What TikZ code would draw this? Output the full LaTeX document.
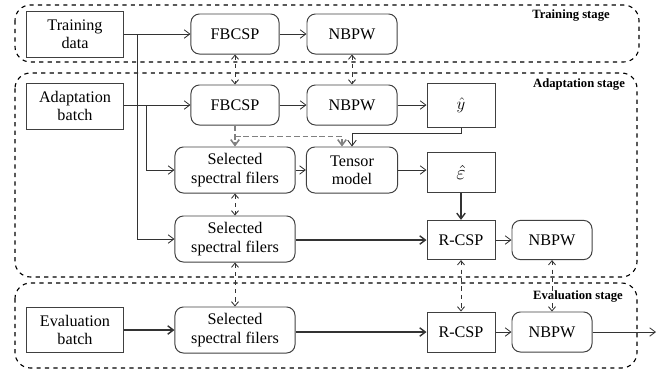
\documentclass[tikz,border=0pt]{standalone}
\usepackage{fontspec}
\setmainfont{Liberation Serif}
\usepackage{amsmath}
\usepackage{tikz}
\usetikzlibrary{
	positioning,
	calc,
	arrows.meta
}

\begin{document}
\begin{tikzpicture}[
	x=0.025cm, y=-0.025cm,
	font=\fontsize{11.5}{13}\selectfont,
	c_block/.style={
		draw=black!75,
		line width=0.7pt,
		align=center,
		inner sep=1pt
	},
	c_round/.style={
		c_block,
		rounded corners=6pt
	},
	c_stage/.style={
		black,
		dashed,
		line width=0.8pt,
		rounded corners=11pt
	},
	c_arrow/.style={
		black!80,
		line width=0.6pt,
		-{Straight Barb[length=4pt,width=6pt]}
	},
	c_thick/.style={
		c_arrow,
		line width=1pt
	},
	c_link/.style={
		black!80,
		dashed,
		line width=0.6pt,
		{Straight Barb[length=3pt,width=5pt]}-{Straight Barb[length=3pt,width=5pt]}
	},
	c_gray/.style={
		gray,
		dash pattern=on 4pt off 2pt,
		line width=1.1pt,
		-{Straight Barb[length=4pt,width=6pt]}
	},
	c_label/.style={
		font=\fontsize{9}{10}\selectfont\bfseries
	}
	]

	\useasboundingbox (0,0) rectangle (664,376);

	% =========================================================================
	% STAGES
	% =========================================================================

	\draw[c_stage] (15,5) rectangle (639,62);
	\draw[c_stage] (15,73) rectangle (637,277);
	\draw[c_stage] (15,283) rectangle (637,368);

	\node[c_label] (lbl_train) at (571,16) {Training stage};
	\node[c_label] (lbl_adapt) at (579,85) {Adaptation stage};
	\node[c_label] (lbl_eval) at (578,296) {Evaluation stage};

	% =========================================================================
	% TRAINING STAGE
	% =========================================================================

	\node[c_block, minimum width=2.425cm, minimum height=1.15cm]
	(td) at (75,34) {Training\\data};

	\node[c_round, minimum width=2.2cm, minimum height=1.0cm]
	(fb1) at (235,34) {FBCSP};

	\node[c_round, minimum width=2.25cm, minimum height=1.0cm]
	(nb1) at (352,34) {NBPW};

	% =========================================================================
	% ADAPTATION STAGE
	% =========================================================================

	\node[c_block, minimum width=2.425cm, minimum height=1.15cm]
	(ab) at (75,106) {Adaptation\\batch};

	\node[c_round, minimum width=2.2cm, minimum height=1.0cm]
	(fb2) at (235,105) {FBCSP};

	\node[c_round, minimum width=2.25cm, minimum height=1.0cm]
	(nb2) at (352,105) {NBPW};

	\node[c_block, minimum width=1.7cm, minimum height=1.1cm]
	(yh) at (461,105) {$\hat{y}$};

	\node[c_round, minimum width=3.0cm, minimum height=1.15cm]
	(ssf1) at (235,170) {Selected\\spectral filers};

	\node[c_round, minimum width=2.28cm, minimum height=1.15cm]
	(tm) at (352,170) {Tensor\\model};

	\node[c_block, minimum width=1.7cm, minimum height=1.0cm]
	(eh) at (461,172) {\Large$\hat{\varepsilon}$};

	\node[c_round, minimum width=3.0cm, minimum height=1.15cm]
	(ssf2) at (235,239) {Selected\\spectral filers};

	\node[c_block, minimum width=1.7cm, minimum height=0.98cm]
	(rc1) at (461,240) {R-CSP};

	\node[c_round, minimum width=2.0cm, minimum height=0.98cm]
	(nb3) at (552,240) {NBPW};

	% =========================================================================
	% EVALUATION STAGE
	% =========================================================================

	\node[c_block, minimum width=2.425cm, minimum height=1.125cm]
	(eb) at (75,330) {Evaluation\\batch};

	\node[c_round, minimum width=3.0cm, minimum height=1.15cm]
	(ssf3) at (235,330) {Selected\\spectral filers};

	\node[c_block, minimum width=1.7cm, minimum height=1.0cm]
	(rc2) at (461,332) {R-CSP};

	\node[c_round, minimum width=2.0cm, minimum height=1.0cm]
	(nb4) at (552,332) {NBPW};

	\coordinate (out) at (656,332);

	% =========================================================================
	% CONNECTORS
	% =========================================================================

	% Training data
	\draw[c_arrow] (td.east) -- (fb1.west);
	\draw[c_arrow] (fb1) -- (nb1);
	\coordinate (tap1) at ($(td.east)!0.2!(fb1.west)$);
	\draw[c_arrow] (tap1) |- (ssf2.west);

	% Adaptation batch
	\draw[c_arrow] (ab.east |- fb2) -- (fb2.west);
	\coordinate (tap2) at ($(ab.east |- fb2)!0.34!(fb2.west)$);
	\draw[c_arrow] (tap2) |- (ssf1.west);
	\draw[c_arrow] (fb2) -- (nb2);
	\draw[c_arrow] (nb2) -- (yh);

	% Selected bands to tensor model
	\coordinate (split) at ($(fb2.south)+(0,11)$);
	\draw[c_gray] (fb2.south) -- (ssf1.north);
	\draw[c_gray] (split) -| ([xshift=-0.25cm]tm.north);
	\draw[c_arrow] (yh.south) -- ++(0,6) -| (tm.north);

	\draw[c_arrow] (ssf1) -- (tm);
	\draw[c_arrow] (tm.east) -- (tm.east -| eh.west);
	\draw[c_thick] (eh) -- (rc1);
	\draw[c_thick] (ssf2.east |- rc1) -- (rc1.west);
	\draw[c_arrow] (rc1) -- (nb3);

	% Evaluation batch
	\draw[c_thick] (eb.east |- ssf3) -- (ssf3.west);
	\draw[c_thick] (ssf3.east |- rc2) -- (rc2.west);
	\draw[c_arrow] (rc2) -- (nb4);
	\draw[c_arrow] (nb4) -- (out);

	% Shared parameters
	\draw[c_link] (fb1) -- (fb2);
	\draw[c_link] (nb1) -- (nb2);
	\draw[c_link] (ssf1) -- (ssf2);
	\draw[c_link] (ssf2) -- (ssf3);
	\draw[c_link] (rc1) -- (rc2);
	\draw[c_link] (nb3) -- (nb4);

\end{tikzpicture}
\end{document}
